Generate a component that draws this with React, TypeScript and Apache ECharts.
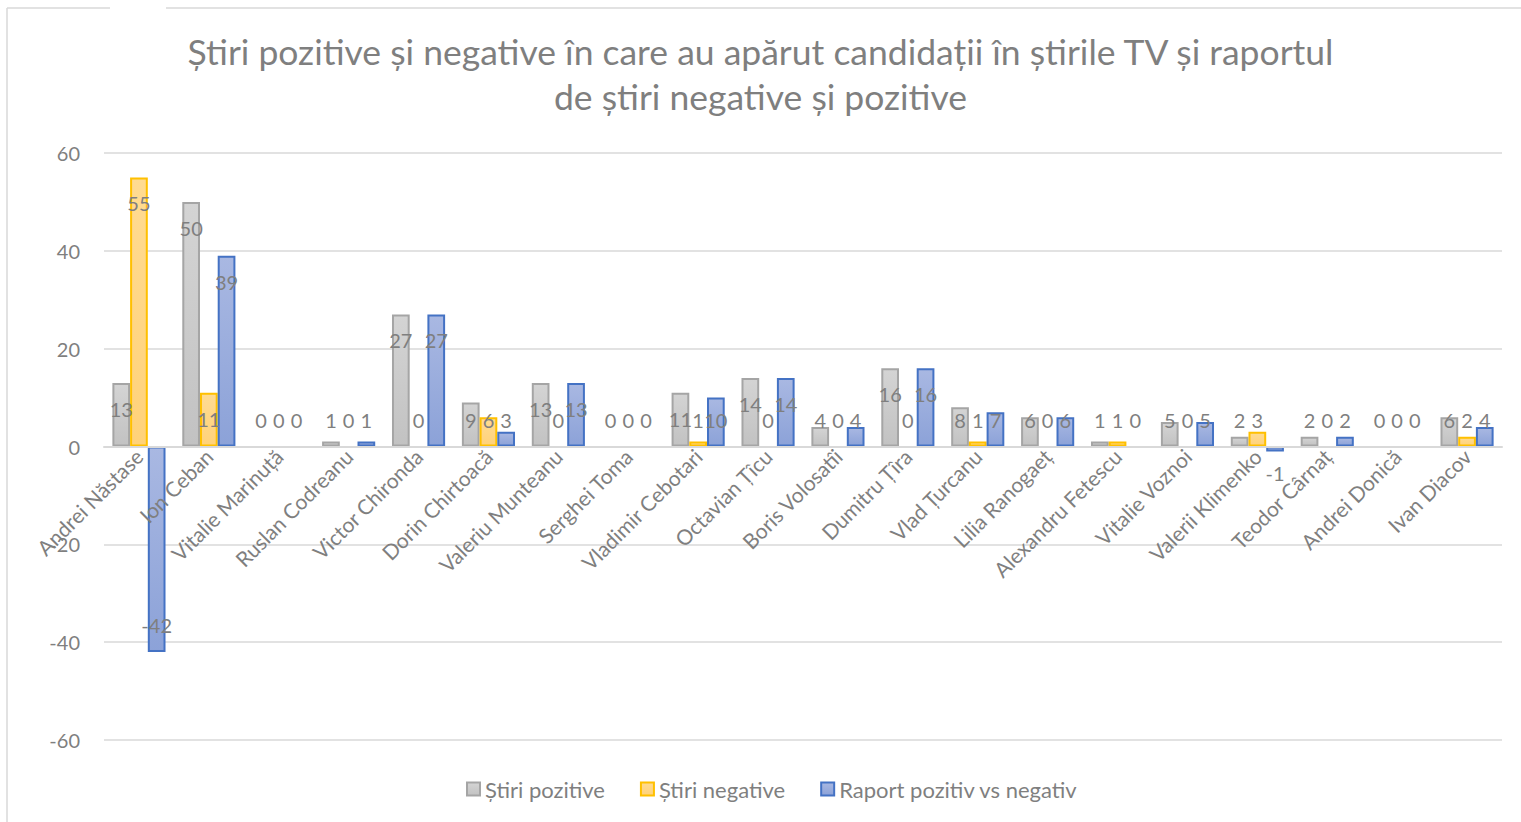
import React, { useEffect, useRef } from "react";
import * as echarts from "echarts";

const categories = [
  "Andrei Năstase",
  "Ion Ceban",
  "Vitalie Marinuță",
  "Ruslan Codreanu",
  "Victor Chironda",
  "Dorin Chirtoacă",
  "Valeriu Munteanu",
  "Serghei Toma",
  "Vladimir Cebotari",
  "Octavian Țîcu",
  "Boris Volosatîi",
  "Dumitru Țîra",
  "Vlad Țurcanu",
  "Lilia Ranogaeț",
  "Alexandru Fetescu",
  "Vitalie Voznoi",
  "Valerii Klimenko",
  "Teodor Cârnaț",
  "Andrei Donică",
  "Ivan Diacov",
];

const stiriPozitive = [13, 50, 0, 1, 27, 9, 13, 0, 11, 14, 4, 16, 8, 6, 1, 5, 2, 2, 0, 6];
const stiriNegative = [55, 11, 0, 0, 0, 6, 0, 0, 1, 0, 0, 0, 1, 0, 1, 0, 3, 0, 0, 2];
const raport = [-42, 39, 0, 1, 27, 3, 13, 0, 10, 14, 4, 16, 7, 6, 0, 5, -1, 2, 0, 4];

const yTicks = { min: -60, max: 60, interval: 20 };

const TITLE =
  "Știri pozitive și negative în care au apărut candidații în știrile TV și raportul\nde știri negative și pozitive";

const FONT = "Lato, 'Open Sans', sans-serif";
const TEXT_GRAY = "#7f7f7f";

function labelFor(v: number) {
  if (v >= 11) return { position: "insideTop", distance: 16 };
  if (v >= 0) return { position: "insideBottom", distance: 17 };
  if (v <= -10) return { position: "insideBottom", distance: 17 };
  return { position: "bottom", distance: 12 };
}

function toData(values: number[]) {
  return values.map((v) => ({
    value: v,
    label: labelFor(v),
    itemStyle: v === 0 ? { borderWidth: 0, color: "rgba(0,0,0,0)" } : undefined,
  }));
}

function grad(top: string, bottom: string) {
  return new echarts.graphic.LinearGradient(0, 0, 0, 1, [
    { offset: 0, color: top },
    { offset: 1, color: bottom },
  ]);
}

export default function App() {
  const ref = useRef<HTMLDivElement>(null);

  useEffect(() => {
    document.body.style.margin = "0";
    if (!ref.current) return;
    const chart = echarts.init(ref.current, undefined, { renderer: "svg" });

    const barLabel = {
      show: true,
      color: TEXT_GRAY,
      fontSize: 20,
      fontFamily: FONT,
    };

    const option: any = {
      animation: false,
      backgroundColor: "#ffffff",
      title: {
        text: TITLE,
        left: "center",
        top: 24,
        textStyle: {
          color: TEXT_GRAY,
          fontSize: 35.5,
          fontWeight: "normal",
          fontFamily: FONT,
          lineHeight: 45,
          align: "center",
        },
      },
      legend: {
        bottom: 17,
        left: 461,
        icon: "rect",
        itemWidth: 13,
        itemHeight: 13,
        itemGap: 35,
        textStyle: { color: TEXT_GRAY, fontSize: 22, fontFamily: FONT },
        data: ["Știri pozitive", "Știri negative", "Raport pozitiv vs negativ"],
      },
      grid: { left: 104, right: 19, top: 153, bottom: 82, outerBoundsMode: "none", containLabel: false },
      xAxis: {
        type: "category",
        data: categories,
        offset: -293.5,
        z: 5,
        axisLine: { onZero: false, lineStyle: { color: "#d9d9d9", width: 2 } },
        axisTick: { show: false },
        axisLabel: {
          rotate: 45,
          interval: 0,
          color: TEXT_GRAY,
          fontSize: 21,
          fontFamily: FONT,
          margin: 6,
        },
      },
      yAxis: {
        type: "value",
        min: yTicks.min,
        max: yTicks.max,
        interval: yTicks.interval,
        axisLine: { show: false },
        axisTick: { show: false },
        splitLine: { lineStyle: { color: "#d9d9d9", width: 1.5 } },
        axisLabel: { color: TEXT_GRAY, fontSize: 20, fontFamily: FONT, margin: 24 },
      },
      series: [
        {
          name: "Știri pozitive",
          type: "bar",
          data: toData(stiriPozitive),
          barGap: "0%",
          barCategoryGap: "24%",
          itemStyle: {
            color: grad("#d4d4d4", "#c2c2c2"),
            borderColor: "#a5a5a5",
            borderWidth: 2,
          },
          label: barLabel,
        },
        {
          name: "Știri negative",
          type: "bar",
          data: toData(stiriNegative),
          barGap: "0%",
          barCategoryGap: "24%",
          itemStyle: {
            color: grad("#ffdb92", "#ffd27a"),
            borderColor: "#ffc000",
            borderWidth: 2,
          },
          label: barLabel,
        },
        {
          name: "Raport pozitiv vs negativ",
          type: "bar",
          data: toData(raport),
          barGap: "0%",
          barCategoryGap: "24%",
          itemStyle: {
            color: grad("#a9b8e2", "#8ca2d8"),
            borderColor: "#4472c4",
            borderWidth: 2,
          },
          label: barLabel,
        },
      ],
      graphic: [
        { type: "line", shape: { x1: 7, y1: 8, x2: 110, y2: 8 }, style: { stroke: "#d9d9d9", lineWidth: 1.5 }, silent: true },
        { type: "line", shape: { x1: 166, y1: 8, x2: 1521, y2: 8 }, style: { stroke: "#d9d9d9", lineWidth: 1.5 }, silent: true },
        { type: "line", shape: { x1: 7, y1: 8, x2: 7, y2: 822 }, style: { stroke: "#d9d9d9", lineWidth: 1.5 }, silent: true },
      ],
    };

    chart.setOption(option);
    return () => chart.dispose();
  }, []);

  return <div ref={ref} style={{ width: 1521, height: 822 }} />;
}
